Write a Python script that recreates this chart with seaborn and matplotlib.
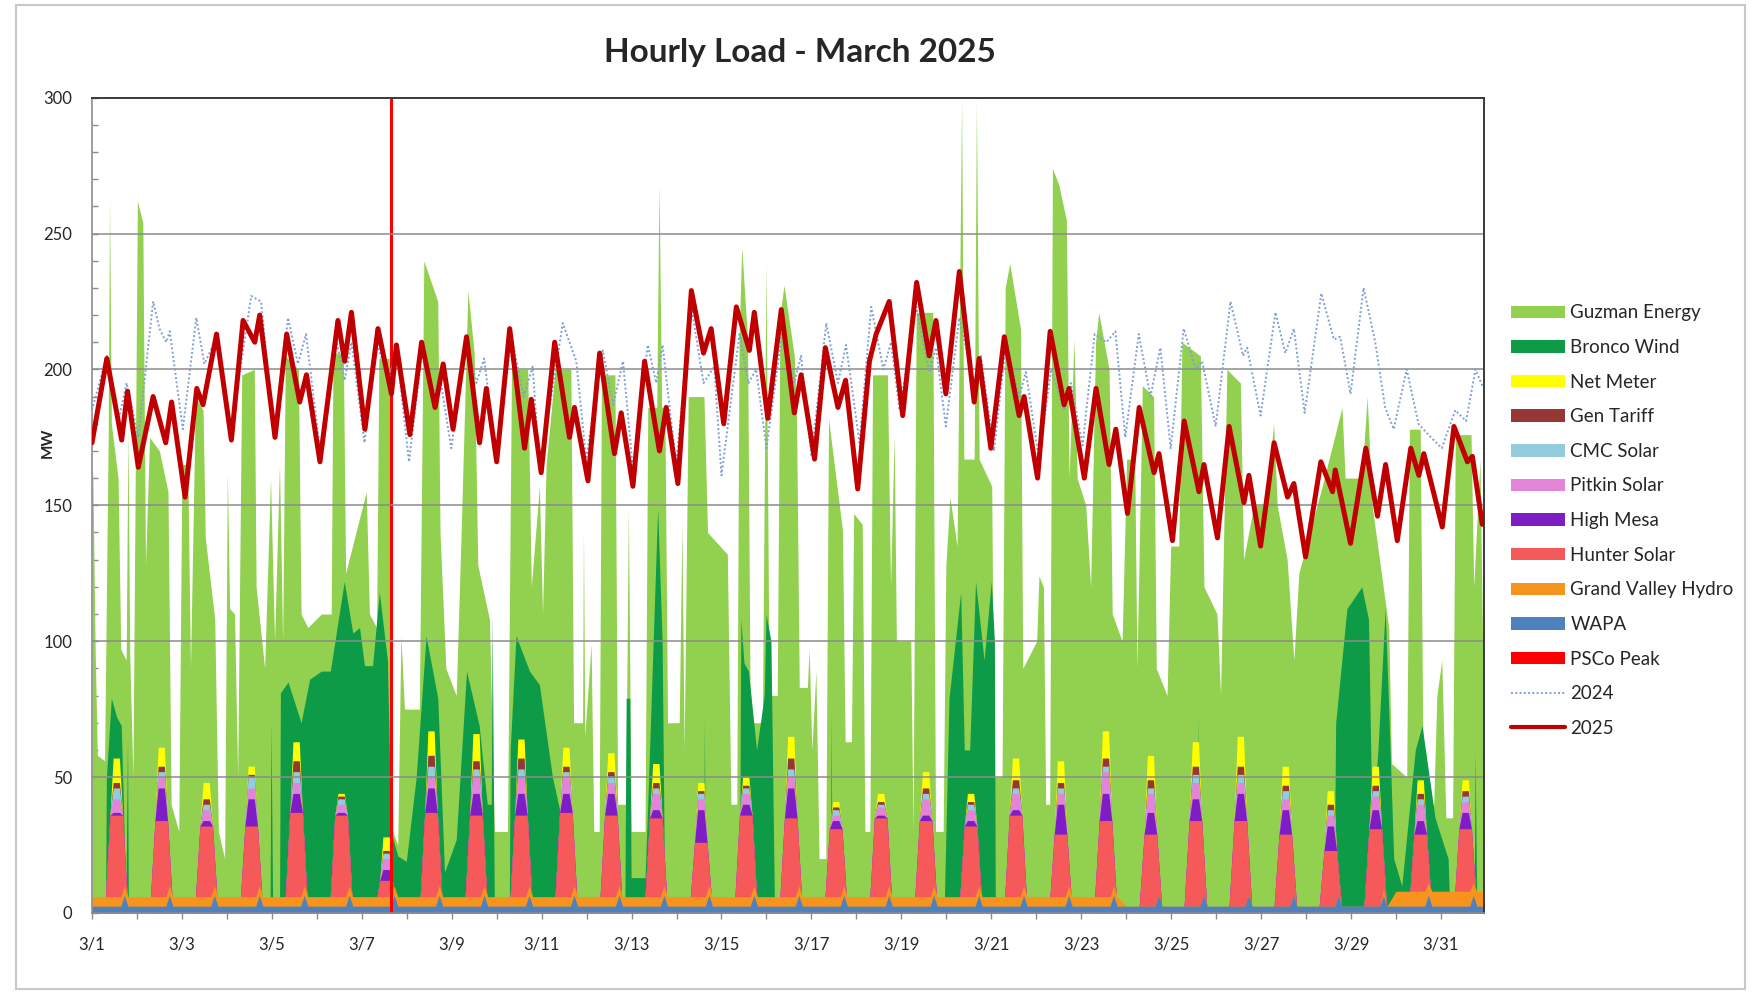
import numpy as np
import pandas as pd
import matplotlib
matplotlib.use("Agg")
import matplotlib.pyplot as plt
from matplotlib.patches import Patch, Rectangle
from matplotlib.lines import Line2D
from matplotlib.ticker import MultipleLocator
import seaborn as sns

# x axis: days since 3/1 00:00 (744 hourly points in the source)
tick_days = [0, 2, 4, 6, 8, 10, 12, 14, 16, 18, 20, 22, 24, 26, 28, 30]
tick_labels = ["3/1", "3/3", "3/5", "3/7", "3/9", "3/11", "3/13", "3/15",
               "3/17", "3/19", "3/21", "3/23", "3/25", "3/27", "3/29", "3/31"]

# 2025 load, read at turning points
load_2025_day = [0.0, 0.33, 0.66, 0.79, 1.03, 1.36, 1.64, 1.77, 2.07, 2.33, 2.47, 2.77,
                 3.10, 3.36, 3.62, 3.73, 4.07, 4.33, 4.62, 4.77, 5.07, 5.47, 5.62, 5.77,
                 6.07, 6.36, 6.66, 6.77, 7.07, 7.33, 7.63, 7.81, 8.03, 8.33, 8.62, 8.77,
                 9.0, 9.29, 9.62, 9.77, 9.99, 10.29, 10.62, 10.73, 11.03, 11.29, 11.62, 11.77,
                 12.03, 12.29, 12.62, 12.77, 13.03, 13.33, 13.6, 13.77, 14.05, 14.33, 14.62, 14.73,
                 15.03, 15.33, 15.62, 15.77, 16.07, 16.31, 16.59, 16.76, 17.03, 17.29, 17.44, 17.73,
                 18.03, 18.34, 18.62, 18.77, 18.99, 19.29, 19.62, 19.73, 19.99, 20.29, 20.62, 20.73,
                 21.03, 21.31, 21.62, 21.73, 22.07, 22.33, 22.62, 22.77, 23.03, 23.29, 23.62, 23.73,
                 24.03, 24.29, 24.62, 24.73, 25.03, 25.29, 25.62, 25.73, 25.99, 26.29, 26.59, 26.73,
                 26.99, 27.33, 27.59, 27.65, 27.99, 28.33, 28.59, 28.77, 29.03, 29.33, 29.51, 29.62,
                 30.03, 30.29, 30.59, 30.70, 30.92]
load_2025_mw = [173, 204, 174, 192, 164, 190, 173, 188, 153, 193, 187, 213,
                174, 218, 210, 220, 175, 213, 188, 198, 166, 218, 203, 221,
                178, 215, 191, 209, 176, 210, 186, 202, 178, 212, 173, 193,
                166, 215, 171, 189, 162, 210, 175, 186, 159, 206, 169, 184,
                157, 203, 170, 186, 158, 229, 206, 215, 180, 223, 207, 221,
                182, 222, 184, 198, 167, 208, 186, 196, 156, 203, 213, 225,
                183, 232, 205, 218, 191, 236, 188, 204, 171, 212, 183, 190,
                160, 214, 187, 193, 160, 193, 165, 178, 147, 186, 162, 169,
                137, 181, 155, 165, 138, 179, 151, 161, 135, 173, 153, 158,
                131, 166, 155, 163, 136, 171, 146, 165, 137, 171, 161, 169,
                142, 179, 166, 168, 143]

# 2024 load, read at turning points
load_2024_day = [0.0, 0.33, 0.6, 0.77, 1.03, 1.36, 1.5, 1.65, 1.73, 2.02, 2.32, 2.5, 2.75,
                 3.08, 3.54, 3.76, 4.06, 4.36, 4.58, 4.76, 5.08, 5.43, 5.62, 5.77,
                 6.06, 6.32, 6.6, 6.77, 7.05, 7.36, 7.6, 7.73, 7.99, 8.33, 8.55, 8.72,
                 9.0, 9.33, 9.6, 9.8, 9.96, 10.47, 10.77, 10.99, 11.36, 11.59, 11.81,
                 12.03, 12.36, 12.55, 12.69, 12.99, 13.33, 13.6, 13.84, 14.0, 14.4, 14.6, 14.77,
                 15.0, 15.36, 15.62, 15.77, 16.0, 16.33, 16.59, 16.77, 17.07, 17.33, 17.6, 17.77,
                 17.96, 18.33, 18.62, 18.77, 18.99, 19.29, 19.62, 19.77, 20.06, 20.33, 20.62, 20.77,
                 21.06, 21.33, 21.62, 21.77, 22.03, 22.3, 22.56, 22.76, 22.98, 23.28, 23.54, 23.76,
                 23.99, 24.28, 24.55, 24.69, 24.99, 25.32, 25.6, 25.69, 25.99, 26.32, 26.54, 26.73,
                 26.97, 27.34, 27.62, 27.76, 27.99, 28.28, 28.54, 28.76, 28.95, 29.24, 29.5, 29.72,
                 30.02, 30.32, 30.56, 30.77, 30.92]
load_2024_mw = [185, 205, 182, 195, 175, 225, 215, 210, 214, 178, 219, 202, 211,
                176, 227, 225, 175, 219, 202, 213, 169, 211, 196, 210,
                173, 211, 195, 208, 166, 209, 190, 198, 171, 211, 195, 204,
                167, 212, 190, 201, 163, 217, 203, 167, 207, 187, 203,
                163, 209, 195, 209, 165, 223, 195, 201, 161, 213, 195, 200,
                171, 215, 195, 205, 168, 217, 195, 209, 173, 223, 200, 210,
                185, 223, 199, 208, 179, 219, 195, 205, 170, 210, 190, 199,
                167, 200, 185, 195, 172, 213, 210, 214, 175, 213, 190, 208,
                171, 215, 200, 203, 179, 225, 205, 208, 183, 221, 206, 215,
                184, 228, 211, 212, 191, 230, 210, 186, 178, 200, 180, 176,
                171, 185, 181, 200, 194]

# Guzman Energy: top of the whole stack (MW)
guzman_day = [0.0, 0.02, 0.07, 0.12, 0.28, 0.36, 0.39, 0.43, 0.58, 0.64, 0.76, 0.80, 0.84, 0.91,
              1.01, 1.13, 1.19, 1.28, 1.50, 1.69, 1.76, 1.93, 2.00, 2.13, 2.19, 2.30, 2.47, 2.52,
              2.73, 2.81, 2.95, 3.01, 3.06, 3.17, 3.24, 3.33, 3.61, 3.65, 3.84, 3.97, 4.06, 4.17,
              4.24, 4.30, 4.59, 4.65, 4.80, 5.10, 5.32, 5.36, 5.59, 5.64, 5.87, 6.10, 6.17, 6.33,
              6.38, 6.61, 6.69, 6.80, 6.87, 6.95, 7.28, 7.38, 7.69, 7.74, 7.87, 8.10, 8.21, 8.36,
              8.50, 8.58, 8.84, 8.95, 9.24, 9.33, 9.69, 9.77, 9.95, 10.02, 10.10, 10.30, 10.65,
              10.71, 10.91, 10.93, 10.96, 11.10, 11.16, 11.28, 11.33, 11.63, 11.69, 11.87, 11.93,
              11.99, 12.30, 12.36, 12.56, 12.61, 12.67, 12.74, 12.80, 13.06, 13.12, 13.17, 13.26,
              13.61, 13.69, 14.13, 14.21, 14.34, 14.39, 14.45, 14.58, 14.64, 14.91, 14.99, 15.06,
              15.24, 15.30, 15.39, 15.62, 15.67, 15.73, 15.91, 15.95, 16.01, 16.10, 16.17, 16.32,
              16.38, 16.69, 16.75, 16.89, 16.94, 17.13, 17.19, 17.30, 17.36, 17.69, 17.76, 17.84,
              17.89, 18.21, 18.26, 18.33, 18.70, 18.76, 18.93, 18.99, 19.08, 19.24, 19.34, 19.39,
              19.62, 19.67, 19.73, 20.01, 20.06, 20.24, 20.31, 20.41, 20.65, 20.70, 21.01, 21.06,
              21.16, 21.21, 21.30, 21.36, 21.50, 21.67, 21.73, 21.84, 21.91, 22.10, 22.21, 22.32,
              22.39, 22.62, 22.69, 22.91, 23.01, 23.19, 23.24, 23.36, 23.61, 23.67, 23.91, 23.99,
              24.17, 24.24, 24.65, 24.73, 25.02, 25.10, 25.24, 25.54, 25.61, 25.84, 26.10, 26.28,
              26.36, 26.58, 26.73, 26.84, 27.36, 27.80, 27.87, 28.24, 28.36, 28.47, 28.84, 28.90,
              29.24, 29.30, 29.54, 29.61, 29.84, 29.91, 30.02, 30.11, 30.26, 30.32, 30.67, 30.73,
              30.87, 30.96]
guzman_top = [165, 160, 97, 58, 56, 175, 262, 180, 160, 97, 93, 178, 95, 50,
              262, 254, 128, 175, 170, 155, 40, 30, 165, 165, 90, 190, 185, 138,
              108, 30, 20, 162, 112, 110, 50, 198, 200, 120, 90, 160, 100, 165,
              100, 205, 200, 110, 105, 110, 110, 206, 206, 125, 140, 155, 110, 105,
              204, 204, 30, 25, 102, 75, 75, 240, 225, 140, 90, 80, 140, 229,
              206, 128, 108, 30, 30, 200, 200, 120, 157, 110, 165, 200, 200,
              70, 70, 141, 65, 99, 30, 30, 198, 198, 40, 40, 149,
              30, 30, 186, 186, 268, 186, 186, 70, 70, 143, 60, 190,
              190, 140, 132, 40, 40, 211, 245, 211, 70, 70, 239, 80,
              80, 220, 231, 205, 182, 83, 83, 97, 60, 89, 20, 20,
              182, 141, 63, 63, 147, 143, 30, 30, 198, 198, 120, 176,
              100, 100, 30, 221, 221, 30, 30, 128, 153, 135, 299, 167,
              167, 299, 167, 157, 50, 50, 230, 239, 215, 90, 100, 124,
              120, 40, 40, 274, 268, 255, 160, 211, 160, 150, 120, 210,
              221, 200, 110, 100, 167, 167, 90, 194, 190, 90, 80, 135,
              135, 210, 205, 120, 110, 80, 200, 195, 130, 150, 150, 180,
              150, 130, 93, 125, 157, 186, 160, 160, 190, 150, 105, 55,
              50, 178, 178, 40, 40, 80, 93, 35, 35, 176, 176, 120,
              167, 60]

# Bronco Wind: top of wind band (MW)
wind_day = [0.0, 0.30, 0.32, 0.43, 0.55, 0.65, 0.70, 0.75, 0.79, 0.81, 3.96, 3.98, 4.02,
            4.17, 4.19, 4.36, 4.65, 4.84, 5.10, 5.30, 5.61, 5.80, 5.95, 6.06, 6.24, 6.39,
            6.57, 6.65, 6.80, 6.99, 7.21, 7.43, 7.69, 7.84, 8.10, 8.33, 8.61, 8.79, 8.88,
            8.90, 8.93, 8.95, 9.28, 9.30, 9.43, 9.73, 9.95, 10.24, 10.40, 10.55, 10.70,
            11.85, 11.88, 11.96, 11.99, 12.30, 12.36, 12.58, 12.68, 12.74, 13.60, 13.62, 13.64,
            14.40, 14.43, 14.50, 14.60, 14.78, 14.95, 14.99, 15.10, 15.18, 16.42, 16.44, 16.46,
            18.95, 19.06, 19.32, 19.40, 19.52, 19.65, 19.84, 20.00, 20.07, 20.09, 24.58, 24.60,
            24.63, 27.62, 27.66, 27.91, 28.24, 28.39, 28.47, 28.60, 28.76, 28.85, 28.95, 29.13,
            29.43, 29.58, 29.87, 30.16, 30.20, 30.74, 30.76, 30.80, 30.96]
wind_top = [0, 0, 50, 79, 72, 69, 40, 0, 64, 0, 0, 70, 0,
            0, 81, 85, 70, 86, 89, 89, 122, 103, 105, 91, 91, 118,
            93, 30, 21, 19, 50, 102, 79, 15, 27, 89, 69, 40, 40,
            110, 40, 0, 0, 60, 102, 89, 84, 50, 38, 20, 0,
            0, 79, 79, 13, 13, 40, 149, 100, 0, 0, 71, 0,
            0, 108, 92, 89, 60, 80, 110, 100, 0, 0, 73, 0,
            0, 79, 118, 60, 60, 122, 93, 122, 100, 0, 0, 73,
            0, 0, 70, 112, 120, 108, 30, 60, 112, 70, 20, 10,
            60, 69, 35, 20, 0, 0, 60, 0, 0]

# daily solar peaks, as cumulative stack tops (MW), one value per day 3/1..3/31
hunter_top = [36, 34, 32, 32, 37, 36, 12, 37, 36, 36, 37, 36, 35, 26, 36, 35,
              31, 35, 34, 32, 36, 29, 34, 29, 34, 34, 29, 23, 31, 29, 31]
mesa_top = [37, 46, 34, 42, 44, 37, 16, 46, 44, 44, 44, 44, 38, 38, 40, 46,
            34, 36, 36, 34, 38, 40, 44, 37, 42, 44, 38, 32, 38, 34, 37]
pitkin_top = [42, 50, 38, 46, 48, 40, 20, 50, 50, 50, 50, 48, 44, 42, 44, 50,
              36, 39, 42, 38, 44, 44, 52, 44, 48, 48, 42, 36, 43, 40, 41]
cmc_top = [46, 52, 40, 50, 52, 42, 22, 54, 53, 53, 52, 50, 46, 44, 46, 53,
           38, 40, 44, 40, 46, 46, 54, 46, 51, 51, 45, 38, 45, 42, 43]
tariff_top = [48, 54, 42, 51, 56, 43, 23, 58, 56, 57, 54, 52, 48, 45, 47, 57,
              39, 41, 46, 41, 49, 48, 57, 49, 54, 54, 47, 40, 47, 44, 45]
netmeter_top = [57, 61, 48, 54, 63, 44, 28, 67, 66, 64, 61, 59, 55, 48, 50, 65,
                41, 44, 52, 44, 57, 56, 67, 58, 63, 65, 54, 45, 54, 49, 49]

# Grand Valley Hydro top (night level / midday bump) and WAPA (MW)
hydro_night = [6, 6, 6, 6, 6, 6, 6, 6, 6, 6, 6, 6, 6, 6, 6, 6,
               6, 6, 6, 6, 6, 6, 6, 2.5, 2.5, 2.5, 2.5, 2.5, 2.5, 8, 8]
hydro_noon = [10, 10, 10, 10, 10, 10, 10, 10, 10, 10, 10, 10, 10, 10, 10, 10,
              10, 10, 10, 10, 10, 10, 10, 6.5, 6.5, 6.5, 6.5, 6.5, 9, 11, 11]
wapa_night = 2.5
wapa_noon = 6.5

psco_peak_day = 6.66

colors = {
    "Guzman Energy": "#92d050",
    "Bronco Wind": "#0e9b48",
    "Net Meter": "#ffff00",
    "Gen Tariff": "#953735",
    "CMC Solar": "#93cddd",
    "Pitkin Solar": "#e384d8",
    "High Mesa": "#7e1dc4",
    "Hunter Solar": "#f5595a",
    "Grand Valley Hydro": "#f7941d",
    "WAPA": "#4f81bd",
    "PSCo Peak": "#ff0000",
}

days = np.arange(31)


def daily_hump(tops, shoulders=None):
    # one hump per day; upper layers rise above the Hunter plateau around midday
    xs, ys = [0.0], [0.0]
    for i, d in enumerate(days):
        v = tops[i]
        if shoulders is None:
            xs += [d + 0.28, d + 0.40, d + 0.68, d + 0.80]
            ys += [0, v, v, 0]
        else:
            s = shoulders[i]
            xs += [d + 0.28, d + 0.40, d + 0.47, d + 0.61, d + 0.68, d + 0.80]
            ys += [0, s, v, v, s, 0]
    xs.append(30.96)
    ys.append(0)
    return np.array(xs), np.array(ys)


def daily_base(night, noon):
    xs, ys = [], []
    for d, n, p in zip(days, night, noon):
        xs += [d, d + 0.64, d + 0.72, d + 0.80]
        ys += [n, n, p, n]
    xs.append(30.96)
    ys.append(night[-1])
    return np.array(xs), np.array(ys)


sns.set_style("white")
plt.rcParams["font.family"] = ["Lato", "DejaVu Sans"]

fig = plt.figure(figsize=(17.59, 9.93), dpi=100)
ax = fig.add_axes([0.0523, 0.0806, 0.7914, 0.8211])

# areas, painted from the top of the stack downwards
ax.fill_between(guzman_day, 0, guzman_top, color=colors["Guzman Energy"], lw=0, zorder=1)
ax.fill_between(wind_day, 0, wind_top, color=colors["Bronco Wind"], lw=0, zorder=1.1)
solar_layers = [("Net Meter", netmeter_top), ("Gen Tariff", tariff_top),
                ("CMC Solar", cmc_top), ("Pitkin Solar", pitkin_top),
                ("High Mesa", mesa_top)]
for i, (name, tops) in enumerate(solar_layers):
    hx, hy = daily_hump(tops, hunter_top)
    ax.fill_between(hx, 0, hy, color=colors[name], lw=0, zorder=1.2 + i * 0.01)
hx, hy = daily_hump(hunter_top)
ax.fill_between(hx, 0, hy, color=colors["Hunter Solar"], lw=0, zorder=1.27)
bx, by = daily_base(hydro_night, hydro_noon)
ax.fill_between(bx, 0, by, color=colors["Grand Valley Hydro"], lw=0, zorder=1.3)
wx, wy = daily_base([wapa_night] * 31, [wapa_noon] * 31)
ax.fill_between(wx, 0, wy, color=colors["WAPA"], lw=0, zorder=1.31)

ax.axvline(psco_peak_day, color=colors["PSCo Peak"], lw=2.2, zorder=2)

# gridlines
for v in [50, 100, 150, 200, 250]:
    ax.axhline(v, color="#8c8c8c", lw=1.1, zorder=2.5)

df24 = pd.DataFrame({"day": load_2024_day, "MW": load_2024_mw})
df25 = pd.DataFrame({"day": load_2025_day, "MW": load_2025_mw})
sns.lineplot(data=df24, x="day", y="MW", ax=ax, color="#7f9fd6", lw=1.4,
             linestyle=(0, (1, 1.2)), errorbar=None, zorder=3)
sns.lineplot(data=df25, x="day", y="MW", ax=ax, color="#c00000", lw=3.6,
             errorbar=None, zorder=4, solid_joinstyle="round", solid_capstyle="round")

ax.set_xlim(0, 30.96)
ax.set_ylim(0, 300)
ax.set_xticks(tick_days)
ax.set_xticklabels(tick_labels)
ax.xaxis.set_minor_locator(MultipleLocator(1))
ax.set_yticks([0, 50, 100, 150, 200, 250, 300])
ax.yaxis.set_minor_locator(MultipleLocator(10))
ax.tick_params(axis="x", which="both", direction="out", length=4, width=1,
               color="#8c8c8c", labelsize=12, pad=13, bottom=True)
ax.tick_params(axis="y", which="both", direction="in", length=4, width=1,
               color="#8c8c8c", labelsize=12, pad=14, left=True)
ax.set_xlabel("")
ax.set_ylabel("")
for side in ["left", "bottom"]:
    ax.spines[side].set_color("#8c8c8c")
    ax.spines[side].set_linewidth(1.2)
for side in ["top", "right"]:
    ax.spines[side].set_color("#3a3a3a")
    ax.spines[side].set_linewidth(1.4)

fig.text(0.455, 0.947, "Hourly Load - March 2025", ha="center", va="center",
         fontsize=24, fontweight="bold")
fig.text(0.027, 0.554, "MW", rotation=90, ha="center", va="center",
         fontsize=11, fontweight="bold")

legend_names = ["Guzman Energy", "Bronco Wind", "Net Meter", "Gen Tariff", "CMC Solar",
                "Pitkin Solar", "High Mesa", "Hunter Solar", "Grand Valley Hydro",
                "WAPA", "PSCo Peak"]
handles = [Patch(facecolor=colors[n], edgecolor="none") for n in legend_names]
handles += [Line2D([], [], color="#7f9fd6", lw=1.4, linestyle=(0, (1, 1.2))),
            Line2D([], [], color="#c00000", lw=3)]
labels = legend_names + ["2024", "2025"]
fig.legend(handles, labels, loc="upper left", bbox_to_anchor=(0.859, 0.6935),
           frameon=False, fontsize=13.5, handlelength=2.87, handleheight=0.65,
           labelspacing=0.94, handletextpad=0.3, borderpad=0, borderaxespad=0)

fig.patches.append(Rectangle((0.009, 0.004), 0.983, 0.991, transform=fig.transFigure,
                             fill=False, edgecolor="#c8c8c8", lw=1.5))

fig.savefig("out.png", dpi=100)
